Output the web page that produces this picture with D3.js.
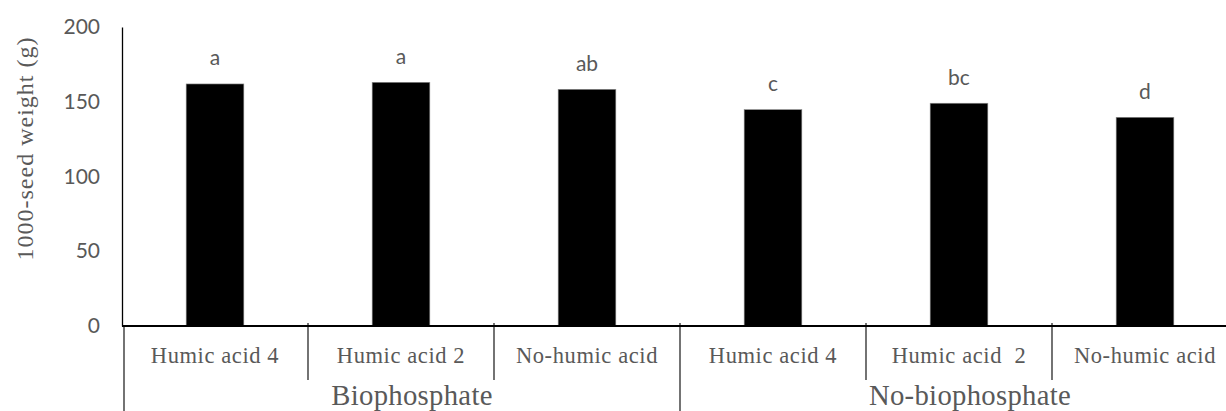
<!DOCTYPE html>
<html>
<head>
<meta charset="utf-8">
<script src="https://cdn.jsdelivr.net/npm/d3@7"></script>
<style>
  html, body { margin: 0; padding: 0; background: #fff; }
  svg { display: block; }
</style>
</head>
<body>
<svg id="chart" width="1226" height="411"></svg>
<script>
// ---- data ----
const categories = ["Humic acid 4", "Humic acid 2", "No-humic acid", "Humic acid 4", "Humic acid  2", "No-humic acid"];
const groups = ["Biophosphate", "No-biophosphate"];
const groupSizes = [3, 3];
const values = [161.9, 163.0, 158.3, 144.7, 149.0, 139.6];
const letters = ["a", "a", "ab", "c", "bc", "d"];
const yTicks = [0, 50, 100, 150, 200];
const yTitle = "1000-seed weight (g)";

(function () {
// ---- layout ----
const svg = d3.select("#chart");
const mLeft = 122, mRight = 1238, mTop = 27, mBottom = 326;
const textGray = "#595959";
const serif = "'Liberation Serif', 'Times New Roman', serif";
const sans = "Lato, 'Open Sans', sans-serif";

const idx = categories.map((d, i) => i);
const x = d3.scaleBand().domain(idx).range([mLeft, mRight]).paddingInner(0.69).paddingOuter(0.345);
const step = x.step();
const y = d3.scaleLinear().domain([0, 200]).range([mBottom, mTop]);

// y axis
const yAxis = d3.axisLeft(y).tickValues(yTicks).tickSize(0).tickPadding(22).tickFormat(d3.format("d"));
const gy = svg.append("g").attr("transform", `translate(${mLeft},0)`).call(yAxis);
gy.select(".domain").attr("stroke", "#000").attr("stroke-width", 1.3);
gy.selectAll(".tick text").attr("fill", textGray).attr("font-family", sans).attr("font-size", 21);

// y title
svg.append("text")
  .attr("transform", `translate(33,${(mTop + 260) / 2 + 5}) rotate(-90)`)
  .attr("text-anchor", "middle")
  .attr("font-family", serif).attr("font-size", 24).attr("letter-spacing", 1)
  .attr("fill", textGray)
  .text(yTitle);

// bars
svg.append("g").selectAll("rect").data(values).join("rect")
  .attr("x", (d, i) => x(i))
  .attr("width", x.bandwidth())
  .attr("y", d => y(d))
  .attr("height", d => y(0) - y(d))
  .attr("fill", "#000")
  .attr("stroke", "#8a8a8a").attr("stroke-width", 0.6);

// letters
svg.append("g").selectAll("text").data(values).join("text")
  .attr("x", (d, i) => x(i) + x.bandwidth() / 2)
  .attr("y", d => y(d) - 18.5)
  .attr("text-anchor", "middle")
  .attr("font-family", sans).attr("font-size", 21)
  .attr("fill", textGray)
  .text((d, i) => letters[i]);

// x axis line
svg.append("line")
  .attr("x1", mLeft).attr("x2", 1226).attr("y1", y(0)).attr("y2", y(0))
  .attr("stroke", "#000").attr("stroke-width", 2);

// dividers
const groupStarts = [];
let acc = 0;
groupSizes.forEach(s => { groupStarts.push(acc); acc += s; });
const boundaries = d3.range(categories.length).map(i => ({ i, pos: mLeft + i * step }));
svg.append("g").selectAll("line").data(boundaries).join("line")
  .attr("x1", b => b.i === 0 ? b.pos + 2 : b.pos)
  .attr("x2", b => b.i === 0 ? b.pos + 2 : b.pos)
  .attr("y1", b => b.i === 0 ? y(0) : y(0) - 3)
  .attr("y2", b => groupStarts.includes(b.i) ? 411 : 380)
  .attr("stroke", "#000").attr("stroke-width", 1.1);

// category labels
svg.append("g").selectAll("text").data(categories).join("text")
  .attr("x", (d, i) => x(i) + x.bandwidth() / 2)
  .attr("y", 363)
  .attr("text-anchor", "middle")
  .attr("font-family", serif).attr("font-size", 22.5).attr("letter-spacing", 0.6)
  .style("white-space", "pre")
  .attr("fill", textGray)
  .text(d => d);

// group labels
svg.append("g").selectAll("text").data(groups).join("text")
  .attr("x", (d, g) => {
    const s = groupStarts[g], n = groupSizes[g];
    return (x(s) + x(s + n - 1) + x.bandwidth()) / 2 + 11;
  })
  .attr("y", 405)
  .attr("text-anchor", "middle")
  .attr("font-family", serif).attr("font-size", 28.7).attr("letter-spacing", 0.3)
  .attr("fill", textGray)
  .text(d => d);
})();
</script>
</body>
</html>
